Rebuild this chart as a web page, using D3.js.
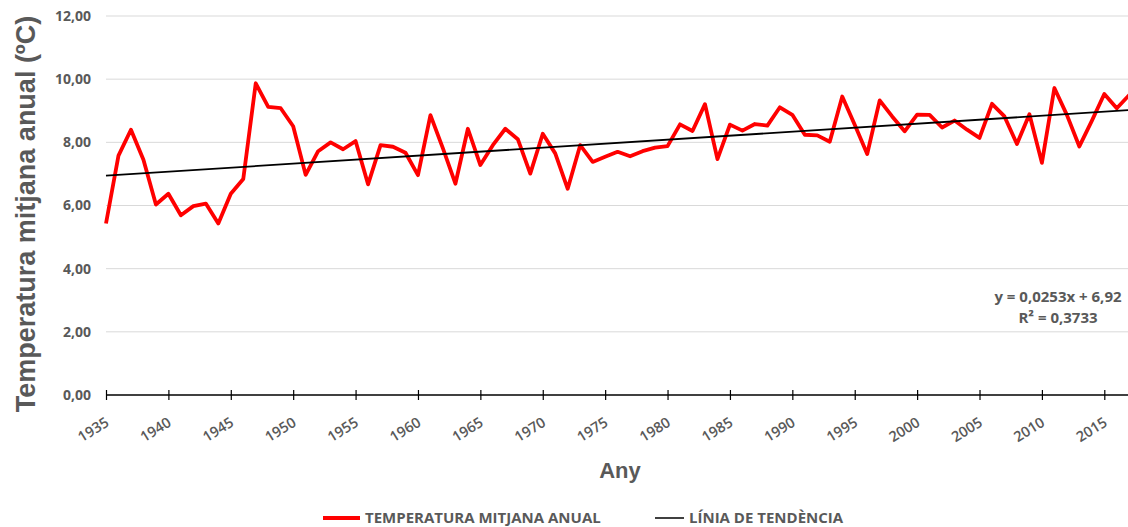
<!DOCTYPE html>
<html>
<head>
<meta charset="utf-8">
<script src="https://cdn.jsdelivr.net/npm/d3@7"></script>
<style>
  html, body { margin: 0; padding: 0; background: #fff; }
  svg { display: block; font-family: "Open Sans", "Liberation Sans", sans-serif; }
</style>
</head>
<body>
<svg id="chart" width="1128" height="527"></svg>
<script>
// Annual mean temperature series (ºC)
const years = d3.range(1935, 2018);
const temps = [
  5.43, 7.58, 8.40, 7.45, 6.03, 6.37, 5.69, 5.98, 6.06, 5.43,
  6.37, 6.84, 9.87, 9.12, 9.08, 8.51, 6.97, 7.72, 8.00, 7.78,
  8.04, 6.67, 7.91, 7.86, 7.67, 6.96, 8.86, 7.81, 6.69, 8.43,
  7.28, 7.91, 8.43, 8.10, 7.01, 8.27, 7.65, 6.53, 7.91, 7.38,
  7.54, 7.70, 7.56, 7.72, 7.83, 7.88, 8.57, 8.36, 9.21, 7.47,
  8.56, 8.37, 8.58, 8.53, 9.11, 8.87, 8.24, 8.22, 8.02, 9.45,
  8.56, 7.63, 9.33, 8.82, 8.35, 8.88, 8.87, 8.47, 8.69, 8.40,
  8.14, 9.22, 8.82, 7.95, 8.89, 7.35, 9.72, 8.87, 7.87, 8.68,
  9.53, 9.08, 9.50
];
const yTicks = [0, 2, 4, 6, 8, 10, 12];
const xTicks = d3.range(1935, 2020, 5);
// Linear trend fitted on the series index (1 = first year)
const trendSlope = 0.0253;
const trendIntercept = 6.92;
const r2 = 0.3733;
const legendLabels = ["TEMPERATURA MITJANA ANUAL", "LÍNIA DE TENDÈNCIA"];

const data = years.map((y, i) => ({ year: y, value: temps[i] }));
const fmt = v => d3.format(".2f")(v).replace(".", ",");

const svg = d3.select("#chart");
const grey = "#595959";

const x = d3.scaleLinear().domain([1935, 2015]).range([106, 1104.3]);
const y = d3.scaleLinear().domain([0, 12]).range([395, 16]);

// horizontal gridlines
svg.append("g")
  .selectAll("line")
  .data(yTicks.filter(d => d > 0))
  .join("line")
  .attr("x1", x(1935)).attr("x2", 1128)
  .attr("y1", d => y(d)).attr("y2", d => y(d))
  .attr("stroke", "#d9d9d9").attr("stroke-width", 1);

// y tick labels
svg.append("g")
  .selectAll("text")
  .data(yTicks)
  .join("text")
  .attr("x", 91).attr("y", d => y(d))
  .attr("dy", "0.35em")
  .attr("text-anchor", "end")
  .attr("fill", grey)
  .attr("font-size", 14).attr("font-weight", 700)
  .text(fmt);

// x axis line and ticks
const xAxis = d3.axisBottom(x)
  .tickValues(xTicks.filter(d => d <= 2017))
  .tickSize(5)
  .tickSizeOuter(0)
  .tickFormat("");
const gx = svg.append("g").attr("transform", `translate(0,${y(0)})`).call(xAxis);
gx.select(".domain").attr("stroke", "#000").attr("stroke-width", 1.3)
  .attr("d", `M${x(1935)},0H1128`);
gx.selectAll(".tick line").attr("stroke", "#000").attr("stroke-width", 1.2)
  .attr("y1", -5).attr("y2", 5);
gx.selectAll(".tick text").remove();

// rotated year labels
svg.append("g")
  .selectAll("text")
  .data(xTicks.filter(d => d <= 2017))
  .join("text")
  .attr("transform", d => `translate(${x(d) + 4},425) rotate(-32)`)
  .attr("text-anchor", "end")
  .attr("fill", grey)
  .attr("font-size", 14.5).attr("font-weight", 600)
  .text(d => d);

// temperature line
const line = d3.line().x(d => x(d.year)).y(d => y(d.value));
svg.append("path")
  .datum(data)
  .attr("fill", "none")
  .attr("stroke", "#ff0000")
  .attr("stroke-width", 3.8)
  .attr("stroke-linejoin", "round")
  .attr("d", line);

// trend line
const trend = [years[0], years[years.length - 1]].map(yr => ({
  year: yr,
  value: trendSlope * (yr - years[0] + 1) + trendIntercept
}));
svg.append("path")
  .datum(trend)
  .attr("fill", "none")
  .attr("stroke", "#000")
  .attr("stroke-width", 1.8)
  .attr("d", line);

// trend equation
const eq = svg.append("g").attr("fill", grey).attr("font-size", 15)
  .attr("font-weight", 700).attr("text-anchor", "middle");
eq.append("text").attr("x", 1058).attr("y", 302)
  .text(`y = ${String(trendSlope).replace(".", ",")}x + ${String(trendIntercept).replace(".", ",")}`);
eq.append("text").attr("x", 1058).attr("y", 323)
  .text(`R² = ${String(r2).replace(".", ",")}`);

// axis titles
svg.append("text")
  .attr("transform", "translate(35,214) rotate(-90)")
  .attr("text-anchor", "middle")
  .attr("fill", grey)
  .attr("font-size", 27).attr("font-weight", 700)
  .attr("font-family", "\"Liberation Sans\", Arial, sans-serif")
  .text("Temperatura mitjana anual (ºC)");

svg.append("text")
  .attr("x", 620).attr("y", 478)
  .attr("text-anchor", "middle")
  .attr("fill", grey)
  .attr("font-size", 22).attr("font-weight", 700)
  .attr("font-family", "\"Liberation Sans\", Arial, sans-serif")
  .text("Any");

// legend
const legend = svg.append("g").attr("font-size", 15).attr("font-weight", 700).attr("fill", grey);
const items = [
  { label: legendLabels[0], color: "#ff0000", w: 3.8, x0: 323, x1: 360 },
  { label: legendLabels[1], color: "#000", w: 1.5, x0: 655, x1: 684 }
];
items.forEach(it => {
  legend.append("line")
    .attr("x1", it.x0).attr("x2", it.x1)
    .attr("y1", 518).attr("y2", 518)
    .attr("stroke", it.color).attr("stroke-width", it.w);
  legend.append("text")
    .attr("x", it.x1 + 5).attr("y", 518).attr("dy", "0.35em")
    .text(it.label);
});
</script>
</body>
</html>
